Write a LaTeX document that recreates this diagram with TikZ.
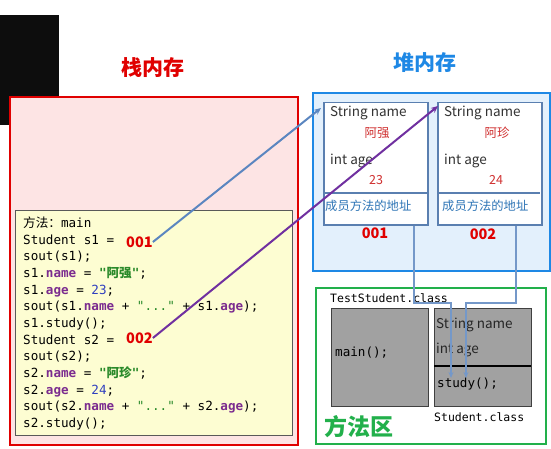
\documentclass[tikz,border=0pt]{standalone}
\usepackage{fontspec}
\setmainfont{Noto Sans CJK SC}
\setmonofont{DejaVu Sans Mono}
\newfontfamily\cjk{Noto Sans CJK SC}
\usepackage{xcolor}
\usetikzlibrary{arrows.meta,positioning,calc}

\definecolor{stackred}{HTML}{E00000}
\definecolor{stackfill}{HTML}{FDE4E4}
\definecolor{codefill}{HTML}{FDFDD2}
\definecolor{heapblue}{HTML}{1E88E5}
\definecolor{heapfill}{HTML}{E3F0FC}
\definecolor{objline}{HTML}{5A7FB0}
\definecolor{areagreen}{HTML}{22B04B}
\definecolor{linkblue}{HTML}{5B86C0}
\definecolor{linkpurple}{HTML}{7030A0}
\definecolor{kwpurple}{HTML}{7B2C8F}
\definecolor{strgreen}{HTML}{2A8A2A}
\definecolor{numblue}{HTML}{2F3FBF}
\definecolor{valred}{HTML}{D03030}
\definecolor{addrblue}{HTML}{2E75B6}

\newcommand\kw[1]{\textcolor{kwpurple}{\textbf{#1}}}
\newcommand\str[1]{\textcolor{strgreen}{\textbf{#1}}}
\newcommand\num[1]{\textcolor{numblue}{#1}}

\tikzset{
  codeline/.style={anchor=base west,inner sep=0pt,font=\ttfamily\fontsize{12.6}{15}\selectfont},
  monotext/.style={anchor=west,inner sep=0pt,font=\ttfamily\fontsize{11.5}{14}\selectfont},
  addr/.style={text=stackred,inner sep=0pt,font=\bfseries\fontsize{14.5}{16}\selectfont},
  title/.style={inner sep=0pt,font=\bfseries\fontsize{21}{24}\selectfont},
  objbox/.style={draw=objline,line width=1.5pt,fill=white,anchor=north west,
    minimum width=104,minimum height=122,inner sep=0pt},
  field/.style={anchor=west,inner sep=0pt,text=black!80,font=\fontsize{13.5}{16}\selectfont},
  value/.style={inner sep=0pt,text=valred,font=\fontsize{12.5}{14}\selectfont},
  method/.style={anchor=west,inner sep=0pt,text=addrblue,font=\fontsize{12.3}{14}\selectfont},
  classbox/.style={draw=black!75,line width=1pt,fill=black!37,anchor=north west,
    minimum width=97,minimum height=98,inner sep=0pt},
  link/.style={line width=2pt,-{Stealth[length=7pt,width=6pt]}},
  pointer/.style={line width=2pt,draw=linkblue!85,-{Stealth[length=6pt,width=5pt]}}
}

\begin{document}
\begin{tikzpicture}[x=1pt,y=-1pt]
  \useasboundingbox (0,0) rectangle (551,449);
  % stack
  \fill[black!95] (0,15) rectangle (59,125);
  \node[title,text=stackred] (stackTitle) at (153,68) {栈内存};
  \draw[stackred,line width=2.5pt,fill=stackfill] (10,97) rectangle (298,445);
  \draw[black!65,line width=1pt,fill=codefill] (15,210) rectangle (292,435);
  \foreach \ln [count=\i from 0] in {
      {{\cjk 方法：}main},
      {Student s1 =},
      {sout(s1);},
      {s1.\kw{name} = \str{"{\cjk\bfseries 阿强}"};},
      {s1.\kw{age} = \num{23};},
      {sout(s1.\kw{name} + \textcolor{strgreen}{"..."} + s1.\kw{age});},
      {s1.study();},
      {Student s2 =},
      {sout(s2);},
      {s2.\kw{name} = \str{"{\cjk\bfseries 阿珍}"};},
      {s2.\kw{age} = \num{24};},
      {sout(s2.\kw{name} + \textcolor{strgreen}{"..."} + s2.\kw{age});},
      {s2.study();}}
    \node[codeline] (line\i) at (23,{227.5+16.67*\i}) {\ln};
  \node[addr,anchor=west] (refA) at (126,242) {001};
  \node[addr,anchor=west] (refB) at (126,338) {002};

  % heap
  \node[title,text=heapblue] (heapTitle) at (425,63) {堆内存};
  \draw[heapblue,line width=2.5pt,fill=heapfill] (313,93) rectangle (550,271);
  \node[objbox] (objA) at (323,102) {};
  \node[objbox] (objB) at (437,102) {};
  \draw[objline,line width=1.5pt] (323,193) -- (427,193);
  \draw[objline,line width=1.5pt] (437,193) -- (540,193);
  \node[field] (nameA) at (330,113) {String name};
  \node[value] (valNameA) at (377,133) {阿强};
  \node[field] (ageA) at (330,161) {int age};
  \node[value] (valAgeA) at (376,180) {23};
  \node[method] (methA) at (325,206) {成员方法的地址};
  \node[field] (nameB) at (444,113) {String name};
  \node[value] (valNameB) at (497,133) {阿珍};
  \node[field] (ageB) at (444,161) {int age};
  \node[value] (valAgeB) at (496,180) {24};
  \node[method] (methB) at (442,206) {成员方法的地址};
  \node[addr] (addrA) at (375,233) {001};
  \node[addr] (addrB) at (483,234) {002};

  % method area
  \draw[areagreen,line width=2.5pt,fill=white] (316,288) rectangle (546,444);
  \node[monotext] (testClass) at (330,298) {TestStudent.class};
  \node[classbox] (mainBox) at (331,308) {};
  \node[classbox] (stuBox) at (434,308) {};
  \draw[black,line width=2pt] (434,366) -- (531,366);
  \node[monotext,font=\ttfamily\fontsize{12.6}{15}\selectfont] (mainCall) at (335,353) {main();};
  \node[field,text=black!85] (stuName) at (436,325) {String name};
  \node[field,text=black!85] (stuAge) at (436,350) {int age};
  \node[monotext,font=\ttfamily\fontsize{12.6}{15}\selectfont] (study) at (437,384) {study();};
  \node[monotext] (stuClass) at (434,417) {Student.class};
  \node[title,text=areagreen,font=\bfseries\fontsize{23}{26}\selectfont,anchor=west] (areaTitle) at (324,427) {方法区};

  % references
  \draw[link,linkblue] (refA.east) -- ($(objA.north west)+(-2,6)$);
  \draw[link,linkpurple] (refB.east) -- ($(objB.north west)+(1,4)$);
  \coordinate (inA) at (451,378);
  \coordinate (inB) at (466,378);
  \draw[pointer] ($(objA.south west)+(91,0)$) |- (451,303) -- (inA);
  \draw[pointer] ($(objB.south west)+(79,0)$) |- (466,303) -- (inB);
\end{tikzpicture}
\end{document}
